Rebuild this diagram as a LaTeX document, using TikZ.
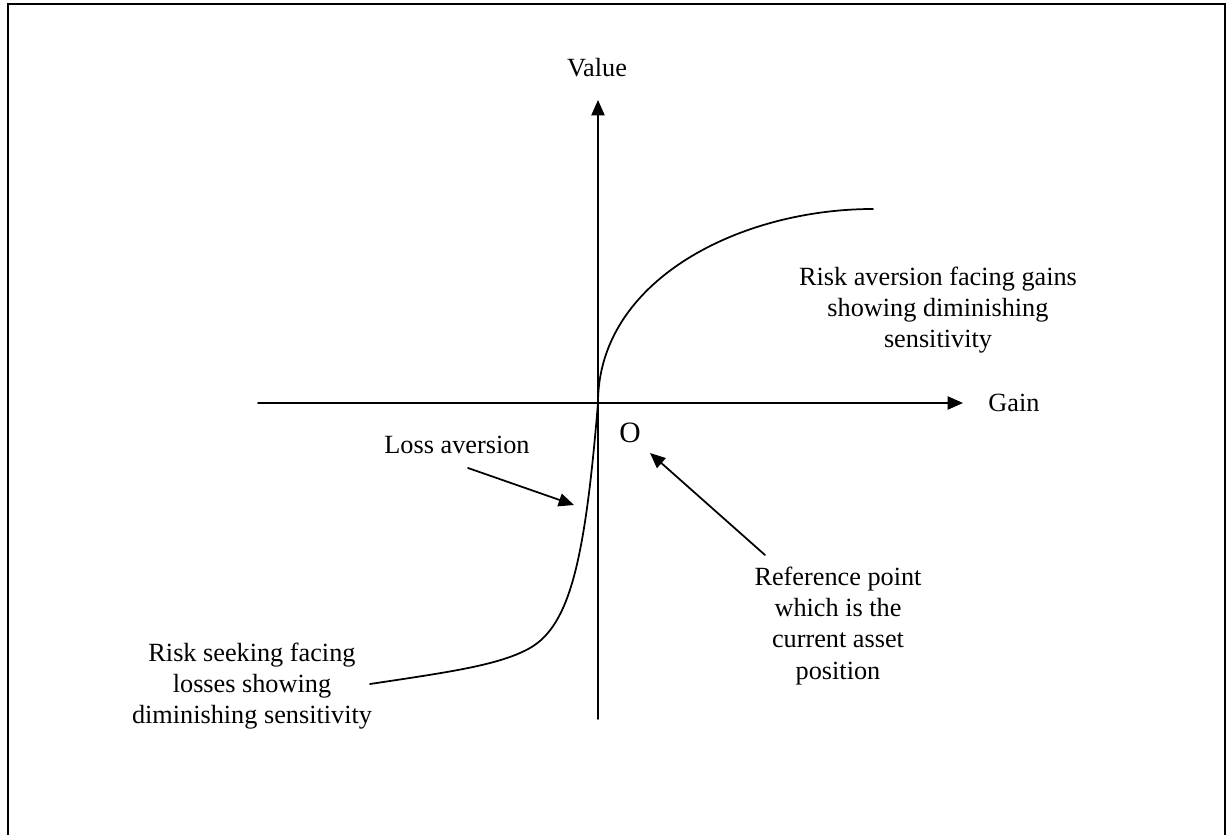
\documentclass[tikz,border=0pt]{standalone}
\usepackage{fontspec}
\setmainfont{Liberation Serif}
\usetikzlibrary{arrows.meta,calc}

\begin{document}
\begin{tikzpicture}[x=0.457pt,y=-0.457pt,line cap=round,>={Triangle[length=7pt,width=6pt]},
        lbl/.style={align=center,font=\fontsize{12}{14.2}\selectfont,inner sep=0pt}]
        \useasboundingbox (0,0) rectangle (1231,835);

        % the frame round the figure
        \draw[line width=1pt] (8,4) rectangle (1225,845);

        % draw the coordinates
        \coordinate (origin) at (598,403);
        \coordinate (xstart) at (258,403);
        \coordinate (xend) at (963,403);
        \coordinate (ystart) at (598,719);
        \coordinate (yend) at (598,100);
        \draw[->,line width=0.8pt] (xstart) -- (xend);
        \draw[->,line width=0.8pt] (ystart) -- (yend);
        \node[lbl] (gain) at (1014,403) {Gain};
        \node[lbl] (value) at (597,68) {Value};
        \node[lbl,font=\fontsize{13.5}{15}\selectfont] (o) at (630,433) {O};

        % draw the value function
        \coordinate (gainend) at (873,209);
        \coordinate (lossend) at (370,684);
        \draw[line width=0.8pt] (origin) .. controls (598,280) and (740,209) .. (gainend);
        \draw[line width=0.8pt] (lossend) .. controls (450,672) and (500,665) .. (530,648)
                                 .. controls (570,625) and (585,560) .. (origin);

        % the labels
        \node[lbl] (gains) at (938,310) {Risk aversion facing gains\\showing diminishing\\sensitivity};
        \node[lbl] (losses) at (252,686) {Risk seeking facing\\losses showing\\diminishing sensitivity};
        \node[lbl] (loss) at (457,445) {Loss aversion};
        \node[lbl] (ref) at (838,626) {Reference point\\which is the\\current asset\\position};

        % the arrows to the labels
        \coordinate (lossfrom) at (468,468);
        \coordinate (lossto) at (574,505);
        \coordinate (reffrom) at (765,555);
        \coordinate (refto) at (650,453);
        \draw[->,line width=0.8pt] (lossfrom) -- (lossto);
        \draw[->,line width=0.8pt] (reffrom) -- (refto);
\end{tikzpicture}
\end{document}
